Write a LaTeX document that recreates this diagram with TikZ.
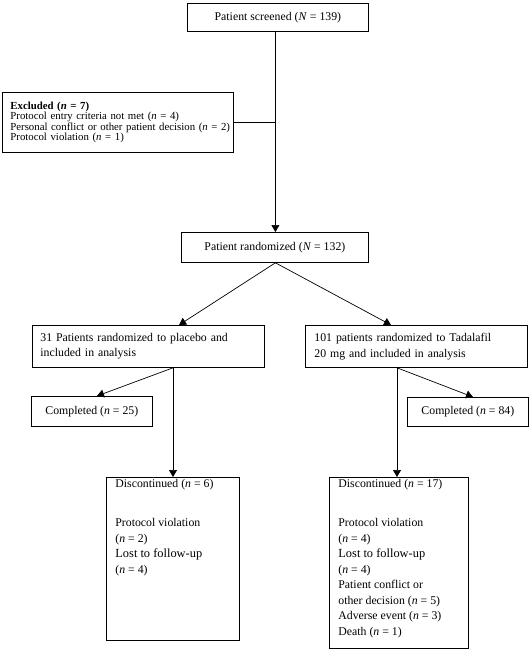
\documentclass[tikz,border=0pt]{standalone}
\usepackage{fontspec}
\setmainfont{Liberation Serif}
\usetikzlibrary{arrows.meta}
\tikzset{
  box/.style={draw, line width=0.8pt, rectangle, inner sep=0pt, anchor=north west},
  conn/.style={line width=0.7pt},
  arr/.style={conn, -{Triangle[length=7pt,width=8pt]}},
}
\newcommand{\mainsz}{\fontsize{11.8}{15.5}\selectfont}
\newcommand{\bigsz}{\fontsize{12.4}{15.5}\selectfont}
\begin{document}
\begin{tikzpicture}[x=1pt, y=-1pt, font=\mainsz]
\useasboundingbox (0,0) rectangle (529,650);

\node[box, minimum width=181pt, minimum height=28pt] (screen) at (187,3)
  {Patient screened (\textit{N} = 139)};

\node[box, text width=225pt, inner xsep=3pt, minimum height=60pt, align=left,
      font=\fontsize{10.8}{10.6}\selectfont] (excl) at (2,92)
  {\mbox{\hspace*{5pt}\textbf{Excluded (\textit{n} = 7)}}\\
   \mbox{\hspace*{5pt}Protocol entry criteria not met (\textit{n} = 4)}\\
   \mbox{\hspace*{5pt}Personal conflict or other patient decision (\textit{n} = 2)}\\
   \mbox{\hspace*{5pt}Protocol violation (\textit{n} = 1)}};

\node[box, minimum width=187pt, minimum height=30pt] (rand) at (181,232)
  {Patient randomized (\textit{N} = 132)};

\node[box, text width=216pt, inner xsep=8pt, minimum height=42pt, align=left] (plac) at (32,325)
  {31 Patients randomized to placebo and\\ included in analysis};

\node[box, text width=204pt, inner xsep=9pt, minimum height=42pt, align=left] (tad) at (305,325)
  {101 patients randomized to Tadalafil\\ 20 mg and included in analysis};

\node[box, minimum width=121pt, minimum height=30pt] (compL) at (31,396)
  {Completed (\textit{n} = 25)};

\node[box, minimum width=121pt, minimum height=29pt] (compR) at (407,397)
  {Completed (\textit{n} = 84)};

\node[box, inner xsep=9pt, inner ysep=2pt] (discL) at (106,477)
  {\parbox[c][159pt][t]{115pt}{\raggedright\mainsz
   Discontinued (\textit{n} = 6)\\[23.5pt]
   Protocol violation\\
   (\textit{n} = 2)\\
   {\bigsz Lost to follow-up}\\
   (\textit{n} = 4)}};

\node[box, inner xsep=9pt, inner ysep=2pt] (discR) at (329,477)
  {\parbox[c][167pt][t]{121pt}{\raggedright\mainsz
   Discontinued (\textit{n} = 17)\\[23.5pt]
   Protocol violation\\
   (\textit{n} = 4)\\
   {\bigsz Lost to follow-up}\\
   (\textit{n} = 4)\\
   Patient conflict or\\
   other decision (\textit{n} = 5)\\
   Adverse event (\textit{n} = 3)\\
   Death (\textit{n} = 1)}};

\coordinate (tr) at ([xshift=-2.5pt]screen.south);
\coordinate (rj) at (tr |- rand.south);
\coordinate (pj) at ([xshift=141pt]plac.south west);
\coordinate (tj) at ([xshift=92pt]tad.south west);

\draw[arr] (tr) -- (tr |- rand.north);
\draw[conn] (excl.east) -- (excl.east -| tr);
\draw[arr] (rj) -- ([xshift=147pt]plac.north west);
\draw[arr] (rj) -- ([xshift=86pt]tad.north west);
\draw[arr] (pj) -- ([xshift=66pt]compL.north west);
\draw[arr] (pj) -- (pj |- discL.north);
\draw[arr] (tj) -- ([xshift=66pt]compR.north west);
\draw[arr] (tj) -- (tj |- discR.north);
\end{tikzpicture}
\end{document}
